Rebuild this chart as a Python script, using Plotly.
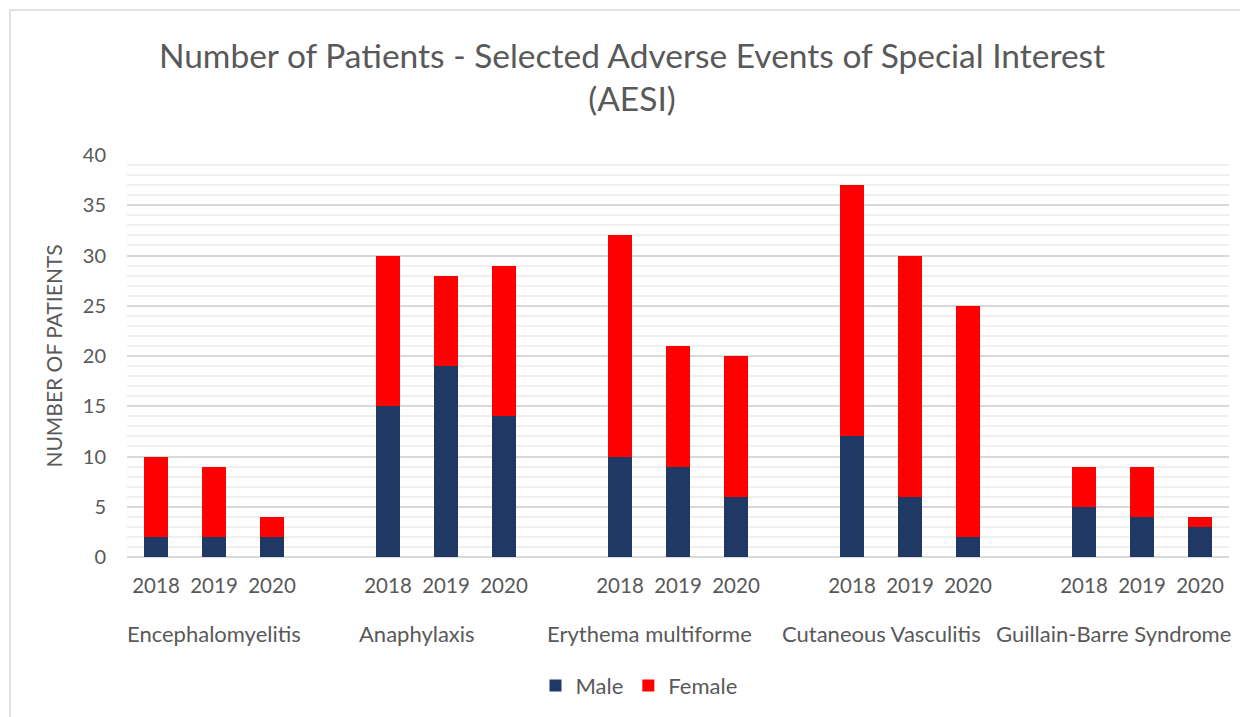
import plotly.graph_objects as go

events = ["Encephalomyelitis", "Anaphylaxis", "Erythema multiforme",
          "Cutaneous Vasculitis", "Guillain-Barre Syndrome"]
years = ["2018", "2019", "2020"]
male = [2, 2, 2, 15, 19, 14, 10, 9, 6, 12, 6, 2, 5, 4, 3]
female = [8, 7, 2, 15, 9, 15, 22, 12, 14, 25, 24, 23, 4, 5, 1]

# numeric positions: 3 bars per group, one blank slot between groups
xpos = []
ticktext = []
for g in range(len(events)):
    for j, y in enumerate(years):
        xpos.append(g * 4 + j)
        ticktext.append(y)

FONT = "Lato, Calibri, Carlito, sans-serif"
GREY = "#595959"

fig = go.Figure()
fig.add_trace(go.Bar(x=xpos, y=male, name="Male", width=0.4,
                     marker=dict(color="#1F3864", line=dict(width=0))))
fig.add_trace(go.Bar(x=xpos, y=female, name="Female", width=0.4,
                     marker=dict(color="#FF0000", line=dict(width=0))))

# group labels
for g, ev in enumerate(events):
    if g == 0:
        cx = (-0.5 + 2.5) / 2
    else:
        cx = (g * 4 - 1.5 + g * 4 + 2.5) / 2
    fig.add_annotation(x=cx, y=-0.19, xref="x", yref="paper", text=ev,
                       showarrow=False, font=dict(size=22, color=GREY, family=FONT),
                       xanchor="center", yanchor="middle")

# chart-area border (top & left visible)
fig.add_shape(type="rect", xref="paper", yref="paper",
              x0=-0.1062, x1=1.2, y0=-0.6, y1=1.3607,
              line=dict(color="#d9d9d9", width=1.5), fillcolor="rgba(0,0,0,0)",
              layer="below")

fig.update_layout(
    barmode="stack",
    width=1248, height=717,
    margin=dict(l=119, r=27, t=147, b=168, autoexpand=False),
    paper_bgcolor="white", plot_bgcolor="white",
    title=dict(text="Number of Patients - Selected Adverse Events of Special Interest<br>(AESI)",
               x=0.5, xanchor="center", y=0.917, yanchor="top",
               font=dict(size=33.5, color=GREY, family=FONT)),
    font=dict(family=FONT, color=GREY),
    showlegend=True,
    legend=dict(orientation="h", x=0.4646, xanchor="center", y=-0.32, yanchor="middle",
                font=dict(size=22, color=GREY, family=FONT), itemwidth=30,
                traceorder="normal"),
    xaxis=dict(range=[-0.5, 18.5], tickvals=xpos, ticktext=ticktext, automargin=False,
               showgrid=False, zeroline=False, showline=False, ticks="",
               tickfont=dict(size=20.5, color=GREY, family=FONT), ticklabelstandoff=14),
    yaxis=dict(range=[0, 40], dtick=5, showgrid=True, gridcolor="#d9d9d9", gridwidth=1.5,
               zeroline=True, zerolinecolor="#d9d9d9", zerolinewidth=1.5, automargin=False,
               minor=dict(dtick=1, showgrid=True, gridcolor="#f0f0f0", gridwidth=1.5),
               tickfont=dict(size=20, color=GREY, family=FONT), ticks="",
               ticklabelstandoff=20,
               title=dict(text="NUMBER OF PATIENTS", font=dict(size=21, color=GREY, family=FONT),
                          standoff=14)),
)

fig.write_html("out.html")
